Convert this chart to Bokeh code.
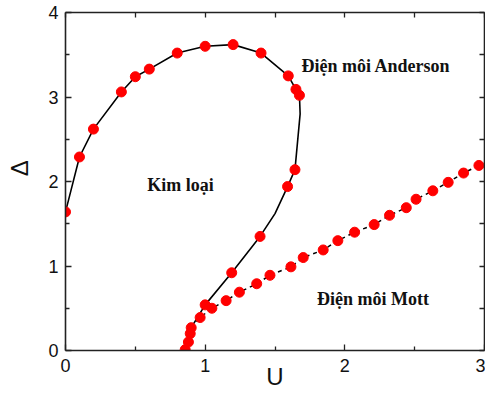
from bokeh.plotting import figure
from bokeh.models import Range1d, LinearAxis, Label, FixedTicker
from bokeh.embed import file_html
from bokeh.resources import INLINE

# --- data ---
# metal / Anderson-insulator / Mott boundary (solid line)
boundary_line_u = [0.0, 0.1, 0.2, 0.4, 0.5, 0.6, 0.8, 1.0, 1.2, 1.4, 1.595, 1.65, 1.675,
                   1.68, 1.643, 1.59, 1.50, 1.393, 1.19, 1.0, 0.90, 0.893, 0.88, 0.857]
boundary_line_d = [1.64, 2.29, 2.62, 3.06, 3.24, 3.33, 3.52, 3.60, 3.62, 3.52, 3.25, 3.09, 3.02,
                   2.80, 2.14, 1.94, 1.62, 1.35, 0.92, 0.54, 0.27, 0.20, 0.10, 0.01]
boundary_pts_u = [0.0, 0.1, 0.2, 0.4, 0.5, 0.6, 0.8, 1.0, 1.2, 1.4, 1.595, 1.65, 1.675,
                  1.643, 1.59, 1.393, 1.19, 1.0, 0.90, 0.893, 0.88, 0.857]
boundary_pts_d = [1.64, 2.29, 2.62, 3.06, 3.24, 3.33, 3.52, 3.60, 3.62, 3.52, 3.25, 3.09, 3.02,
                  2.14, 1.94, 1.35, 0.92, 0.54, 0.27, 0.20, 0.10, 0.01]

# metal / Mott-insulator boundary (dashed line)
mott_u = [0.90, 0.964, 1.048, 1.15, 1.245, 1.369, 1.464, 1.614, 1.702, 1.845, 1.95, 2.07,
          2.21, 2.32, 2.44, 2.51, 2.63, 2.74, 2.85, 2.96]
mott_d = [0.27, 0.39, 0.50, 0.59, 0.69, 0.79, 0.89, 0.99, 1.10, 1.19, 1.30, 1.40,
          1.49, 1.60, 1.69, 1.79, 1.89, 1.99, 2.10, 2.19]
mott_pts_u = mott_u[1:]
mott_pts_d = mott_d[1:]

x_ticks = [0, 1, 2, 3]
x_minor = [0.5, 1.5, 2.5]
y_ticks = [0, 1, 2, 3, 4]
y_minor = [0.5, 1.5, 2.5, 3.5]

p = figure(width=485, height=394, output_backend="svg", toolbar_location=None,
           x_range=Range1d(0, 3), y_range=Range1d(0, 4),
           min_border_left=65, min_border_right=1, min_border_top=12, min_border_bottom=44)
p.grid.visible = False
p.outline_line_color = None
p.background_fill_color = "white"
p.border_fill_color = "white"

p.line(mott_u, mott_d, line_color="black", line_width=1.5, line_dash="4 4")
p.line(boundary_line_u, boundary_line_d, line_color="black", line_width=1.6)
p.scatter(boundary_pts_u, boundary_pts_d, size=10, fill_color="red", line_color="red")
p.scatter(mott_pts_u, mott_pts_d, size=10, fill_color="red", line_color="red")

p.add_layout(LinearAxis(), "above")
p.add_layout(LinearAxis(), "right")

p.below[0].ticker = FixedTicker(ticks=x_ticks, minor_ticks=x_minor)
p.left[0].ticker = FixedTicker(ticks=y_ticks, minor_ticks=y_minor)
# top / right frame axes: ticks only, no labels
p.above[0].ticker = FixedTicker(ticks=[], minor_ticks=x_ticks + x_minor)
p.right[0].ticker = FixedTicker(ticks=[], minor_ticks=y_ticks + y_minor)

for ax in p.axis:
    ax.axis_line_color = "#222222"
    ax.axis_line_width = 1.6
    ax.major_tick_line_color = "#222222"
    ax.minor_tick_line_color = "#222222"
    ax.major_tick_line_width = 1.3
    ax.minor_tick_line_width = 1.3
    ax.major_tick_in = 6
    ax.major_tick_out = 0
    ax.minor_tick_in = 4
    ax.minor_tick_out = 0
    ax.major_label_text_font = "Liberation Sans"
    ax.major_label_text_font_size = "18px"
    ax.major_label_text_color = "#111111"
for ax in (p.above[0], p.right[0]):
    ax.minor_tick_in = 5

p.below[0].major_label_standoff = 8
p.left[0].major_label_standoff = 7

for ax, lab, so in ((p.below[0], "U", -12), (p.left[0], "\u00a0\u00a0\u00a0\u00a0Δ", 12)):
    ax.axis_label = lab
    ax.axis_label_standoff = so
    ax.axis_label_text_font = "Liberation Sans"
    ax.axis_label_text_font_size = "24px"
    ax.axis_label_text_font_style = "normal"
    ax.axis_label_text_color = "#111111"

# region labels
for tx, ux, dy in [("Điện môi Anderson", 1.69, 3.37), ("Kim loại", 0.586, 1.96),
                   ("Điện môi Mott", 1.80, 0.615)]:
    p.add_layout(Label(x=ux, y=dy, text=tx, text_align="left", text_baseline="alphabetic",
                       text_font="Liberation Serif", text_font_style="bold",
                       text_font_size="18px", text_color="#111111"))

open("out.html", "w").write(file_html(p, INLINE))
